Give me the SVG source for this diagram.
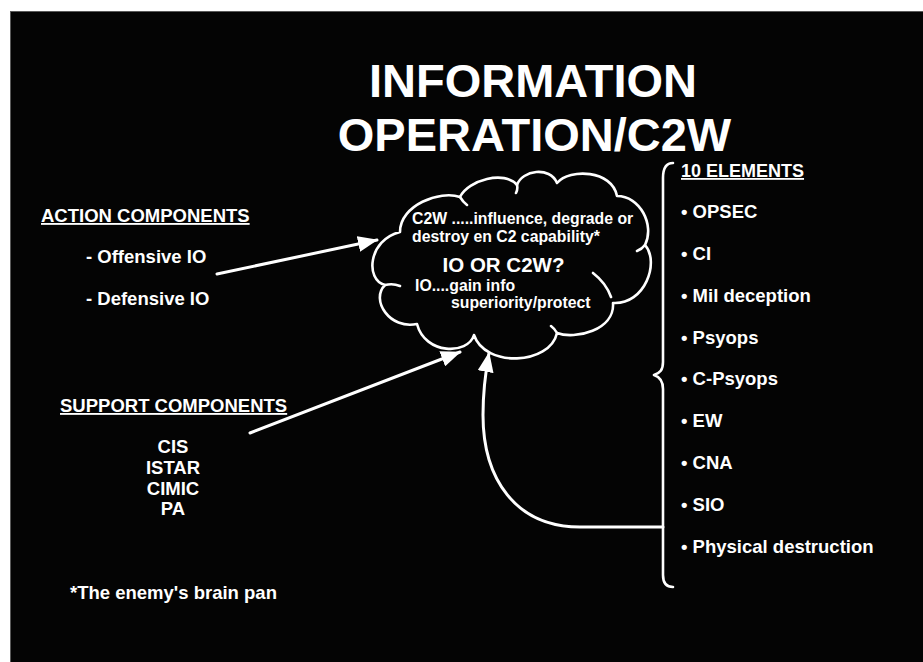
<svg xmlns="http://www.w3.org/2000/svg" width="923" height="662" viewBox="0 0 923 662">
  <style>
    .t { font-family: "Liberation Sans", Arial, sans-serif; font-weight: bold; fill: #ffffff; }
    .title { font-size: 47px; text-anchor: middle; }
    .lbl { font-size: 18.5px; }
    .u { text-decoration: underline; }
    .mid { text-anchor: middle; }
    .cl { font-size: 15.8px; }
    .line { fill: none; stroke: #ffffff; stroke-width: 3; stroke-linecap: round; }
    .outline { fill: none; stroke: #ffffff; stroke-width: 2.6; stroke-linejoin: round; stroke-linecap: round; }
  </style>
  <defs>
    <marker id="head" viewBox="0 0 20 16" refX="19" refY="8" markerWidth="20" markerHeight="16" markerUnits="userSpaceOnUse" orient="auto">
      <path d="M0,0 L20,8 L0,16 Z" fill="#ffffff"/>
    </marker>
  </defs>

  <!-- page -->
  <rect x="0" y="0" width="923" height="662" fill="#ffffff"/>
  <rect x="10.5" y="11.5" width="913" height="651" fill="#040404" stroke="#5a5a5a" stroke-width="1"/>

  <!-- title -->
  <g id="title">
    <text class="t title" x="533" y="97">INFORMATION</text>
    <text class="t title" x="534.5" y="151">OPERATION/C2W</text>
  </g>

  <!-- central cloud -->
  <g id="cloud">
    <path class="outline" d="M400,232 C400,205 440,190 460,197 C468,180 505,170 517,185 C522,170 550,166 557,183 C570,168 612,170 617,196 C640,196 655,225 645,245 C660,262 645,305 613,303 C615,330 575,340 557,333 C550,365 485,368 474,335 C468,355 425,355 417,324 C390,330 370,300 385,285 C365,280 368,240 400,232 Z"/>
    <path class="outline" d="M460,197 q3,5 7,8 M517,185 q1,4 -1,8 M645,245 q-3,4 -8,6 M593,273 Q606,283 611,297 M385,285 q8,-2 15,1 M557,333 q-2,-4 -6,-7"/>
    <text class="t cl" x="412" y="224">C2W .....influence, degrade or</text>
    <text class="t cl" x="412" y="242">destroy en C2 capability*</text>
    <text class="t mid" x="503.5" y="272" font-size="20.5">IO OR C2W?</text>
    <text class="t cl" x="415" y="291">IO....gain info</text>
    <text class="t cl" x="451" y="308">superiority/protect</text>
  </g>

  <!-- action components -->
  <g id="action">
    <text class="t lbl u" x="41" y="222">ACTION COMPONENTS</text>
    <text class="t lbl" x="86" y="263">- Offensive IO</text>
    <text class="t lbl" x="86" y="305">- Defensive IO</text>
  </g>

  <!-- support components -->
  <g id="support">
    <text class="t lbl u" x="60" y="412">SUPPORT COMPONENTS</text>
    <text class="t lbl mid" x="173" y="453">CIS</text>
    <text class="t lbl mid" x="173" y="474">ISTAR</text>
    <text class="t lbl mid" x="173" y="495">CIMIC</text>
    <text class="t lbl mid" x="173" y="515">PA</text>
  </g>

  <!-- footnote -->
  <g id="note">
    <text class="t lbl" x="70" y="599">*The enemy's brain pan</text>
  </g>

  <!-- ten elements list -->
  <g id="elements">
    <text class="t u" x="681" y="177" font-size="18">10 ELEMENTS</text>
    <text class="t lbl" x="681" y="218">• OPSEC</text>
    <text class="t lbl" x="681" y="260">• CI</text>
    <text class="t lbl" x="681" y="302">• Mil deception</text>
    <text class="t lbl" x="681" y="344">• Psyops</text>
    <text class="t lbl" x="681" y="385">• C-Psyops</text>
    <text class="t lbl" x="681" y="427">• EW</text>
    <text class="t lbl" x="681" y="469">• CNA</text>
    <text class="t lbl" x="681" y="511">• SIO</text>
    <text class="t lbl" x="681" y="553">• Physical destruction</text>
  </g>

  <!-- brace grouping the elements -->
  <g id="brace">
    <path class="outline" d="M673,163 C666,163 663,168 663,178 L663,362 C663,370 660,373 654,375 C660,377 663,381 663,389 L663,575 C663,583 666,587 673,587"/>
  </g>

  <!-- connectors -->
  <g id="connectors">
    <path class="line" d="M217,274 L377,240" marker-end="url(#head)"/>
    <path class="line" d="M250,433 L460,352" marker-end="url(#head)"/>
    <path class="line" d="M663,527 L580,527 C515,527 483,478 483,415 C483,395 485,375 489,353" marker-end="url(#head)"/>
  </g>
</svg>
